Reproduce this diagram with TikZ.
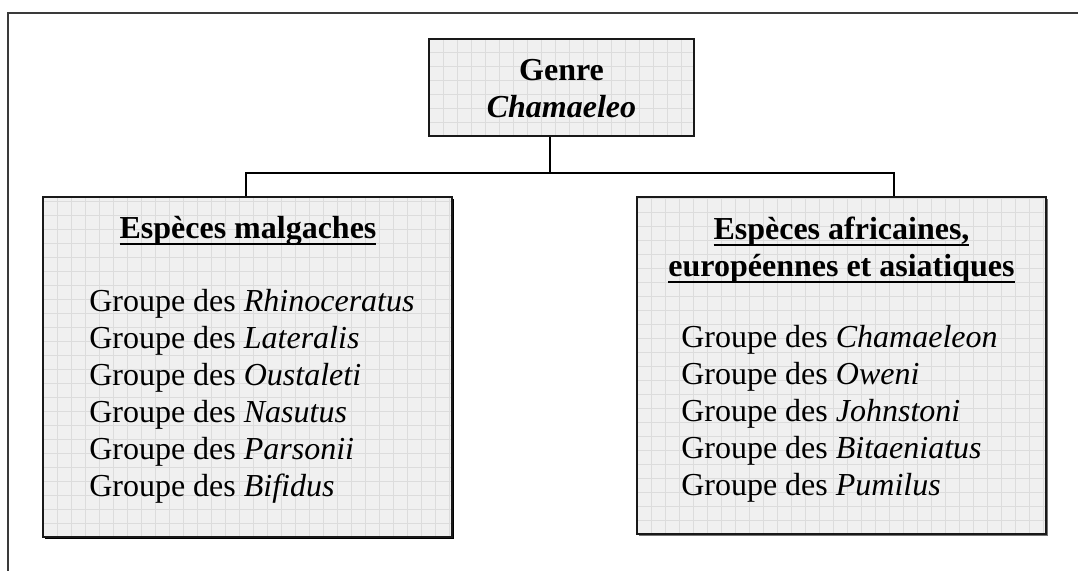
\documentclass[tikz,border=0pt]{standalone}
\usepackage{fontspec}
\setmainfont{Liberation Serif}
\usetikzlibrary{shadows}
\newcommand\hul[1]{\setbox0=\hbox{#1}\rlap{\rule[-5.6pt]{\wd0}{1.9pt}}\box0}
\definecolor{boxfill}{HTML}{F0F0F0}
\definecolor{gridc}{HTML}{DCDCDC}
\definecolor{framec}{HTML}{3A3A3A}
\tikzset{
  gridfill/.style={path picture={
    \foreach \k in {1,...,30}{
      \draw[gridc, line width=0.3pt] ([xshift=\k*10.5pt]path picture bounding box.south west) -- ([xshift=\k*10.5pt]path picture bounding box.north west);
    }
    \foreach \k in {1,...,25}{
      \draw[gridc, line width=0.3pt] ([yshift=\k*10.5pt]path picture bounding box.south west) -- ([yshift=\k*10.5pt]path picture bounding box.south east);
    }
  }},
  box/.style={draw=black!90, line width=1.5pt, fill=boxfill, rectangle, inner sep=0pt, gridfill},
  lbl/.style={inner sep=0pt, font=\fontsize{24}{27.75}\selectfont},
  conn/.style={line width=1.5pt, black},
  framel/.style={line width=1.5pt, framec}
}
\begin{document}
\begin{tikzpicture}[x=0.75pt, y=-0.75pt]
\useasboundingbox (0,0) rectangle (1078,571);
\draw[framel] (8,571) -- (8,13) -- (1078,13);

% boxes
\node[box, minimum width=198.75pt, minimum height=72.75pt,
      drop shadow={shadow xshift=0.8pt, shadow yshift=-0.8pt, fill=black!70, opacity=1}] (G) at (561.5,87.5) {};
\node[box, minimum width=306.75pt, minimum height=255pt,
      drop shadow={shadow xshift=1.2pt, shadow yshift=-1.2pt, fill=black, opacity=1}] (L) at (247.5,367) {};
\node[box, minimum width=306.75pt, minimum height=252.75pt,
      drop shadow={shadow xshift=1.8pt, shadow yshift=-1.8pt, fill=black!55, opacity=1}] (R) at (841.5,365.5) {};

% connectors
\coordinate (j) at (550,173);
\coordinate (lj) at (246,173);
\coordinate (rj) at (894,173);
\draw[conn] (G.south -| j) -- (j);
\draw[conn] (L.north -| lj) -- (lj) -- (rj) -- (R.north -| rj);

% texts
\node[lbl, anchor=base] (gt1) at (561.5,80) {\textbf{Genre}};
\node[lbl, anchor=base] (gt2) at (561.5,117) {\textbf{\textit{Chamaeleo}}};

\node[lbl, anchor=base] (lh) at (248,238) {\textbf{\hul{Espèces malgaches}}};
\foreach \t [count=\i from 0] in {Rhinoceratus,Lateralis,Oustaleti,Nasutus,Parsonii,Bifidus}
  \node[lbl, anchor=base west] (l\i) at (89,{311+37*\i}) {Groupe des \textit{\t}};

\node[lbl, anchor=base] (rh1) at (841.5,239) {\textbf{\hul{Espèces africaines,}}};
\node[lbl, anchor=base] (rh2) at (841.5,276) {\textbf{\hul{européennes et asiatiques}}};
\foreach \t [count=\i from 0] in {Chamaeleon,Oweni,Johnstoni,Bitaeniatus,Pumilus}
  \node[lbl, anchor=base west] (r\i) at (681,{347+37*\i}) {Groupe des \textit{\t}};
\end{tikzpicture}
\end{document}
